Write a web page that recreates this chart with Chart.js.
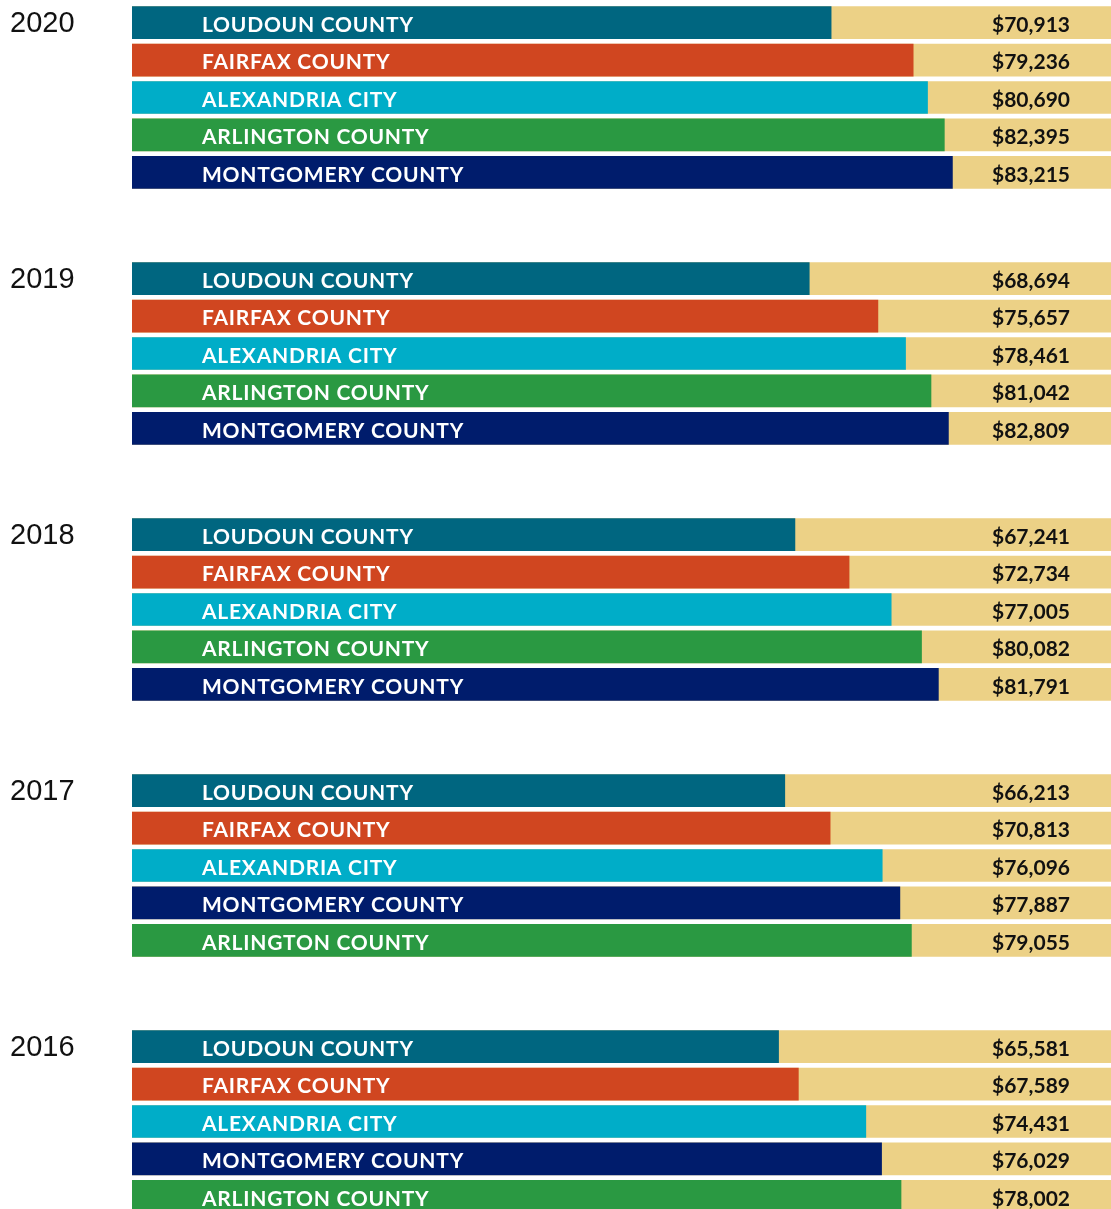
<!DOCTYPE html>
<html>
<head>
<meta charset="utf-8">
<script src="https://cdn.jsdelivr.net/npm/chart.js@4.4.1/dist/chart.umd.min.js"></script>
<style>
  html, body { margin: 0; padding: 0; background: #ffffff; width: 1111px; height: 1209px; overflow: hidden; }
  .group { position: absolute; left: 0; width: 1111px; height: 187px; }
  .year { position: absolute; left: 10px; font-family: "Liberation Sans", Arial, sans-serif; font-size: 29px; line-height: 29px; color: #111; }
</style>
</head>
<body>
<script>
// ---- Data ----
const YEARS = ['2020', '2019', '2018', '2017', '2016'];

const NAMES_2020 = ['LOUDOUN COUNTY', 'FAIRFAX COUNTY', 'ALEXANDRIA CITY', 'ARLINGTON COUNTY', 'MONTGOMERY COUNTY'];
const VALUES_2020 = [70913, 79236, 80690, 82395, 83215];

const NAMES_2019 = ['LOUDOUN COUNTY', 'FAIRFAX COUNTY', 'ALEXANDRIA CITY', 'ARLINGTON COUNTY', 'MONTGOMERY COUNTY'];
const VALUES_2019 = [68694, 75657, 78461, 81042, 82809];

const NAMES_2018 = ['LOUDOUN COUNTY', 'FAIRFAX COUNTY', 'ALEXANDRIA CITY', 'ARLINGTON COUNTY', 'MONTGOMERY COUNTY'];
const VALUES_2018 = [67241, 72734, 77005, 80082, 81791];

const NAMES_2017 = ['LOUDOUN COUNTY', 'FAIRFAX COUNTY', 'ALEXANDRIA CITY', 'MONTGOMERY COUNTY', 'ARLINGTON COUNTY'];
const VALUES_2017 = [66213, 70813, 76096, 77887, 79055];

const NAMES_2016 = ['LOUDOUN COUNTY', 'FAIRFAX COUNTY', 'ALEXANDRIA CITY', 'MONTGOMERY COUNTY', 'ARLINGTON COUNTY'];
const VALUES_2016 = [65581, 67589, 74431, 76029, 78002];

const AXIS_MAX = 99300;

// ---- Styles ----
const COUNTY_COLORS = {
  'LOUDOUN COUNTY': '#006680',
  'FAIRFAX COUNTY': '#D04620',
  'ALEXANDRIA CITY': '#00ADC8',
  'ARLINGTON COUNTY': '#2A9942',
  'MONTGOMERY COUNTY': '#001C6C'
};
const TRACK_COLOR = '#ECD186';

const GROUPS = [
  { year: YEARS[0], names: NAMES_2020, values: VALUES_2020 },
  { year: YEARS[1], names: NAMES_2019, values: VALUES_2019 },
  { year: YEARS[2], names: NAMES_2018, values: VALUES_2018 },
  { year: YEARS[3], names: NAMES_2017, values: VALUES_2017 },
  { year: YEARS[4], names: NAMES_2016, values: VALUES_2016 }
];

const labelPlugin = {
  id: 'barLabels',
  afterDatasetsDraw(chart) {
    const ctx = chart.ctx;
    const meta = chart.getDatasetMeta(0);
    const area = chart.chartArea;
    ctx.save();
    ctx.textBaseline = 'middle';
    meta.data.forEach((bar, i) => {
      const name = chart.data.labels[i];
      const val = chart.data.datasets[0].data[i];
      ctx.font = 'bold 21px Lato, "Open Sans", sans-serif';
      ctx.letterSpacing = '0.75px';
      ctx.fillStyle = '#ffffff';
      ctx.textAlign = 'left';
      ctx.fillText(name, area.left + 70, bar.y + 2.5);
      ctx.fillStyle = '#111111';
      ctx.textAlign = 'right';
      ctx.letterSpacing = '0px';
      ctx.fillText('$' + val.toLocaleString('en-US'), area.right - 41, bar.y + 2.5);
    });
    ctx.restore();
  }
};

GROUPS.forEach((g, k) => {
  const top = 4 + 256 * k;
  const div = document.createElement('div');
  div.className = 'group';
  div.style.top = top + 'px';
  const canvas = document.createElement('canvas');
  canvas.width = 1111;
  canvas.height = 187;
  div.appendChild(canvas);
  document.body.appendChild(div);

  const yr = document.createElement('div');
  yr.className = 'year';
  yr.style.top = (8 + 256 * k) + 'px';
  yr.textContent = g.year;
  document.body.appendChild(yr);

  new Chart(canvas, {
    type: 'bar',
    data: {
      labels: g.names,
      datasets: [
        {
          label: 'Median household income',
          data: g.values,
          backgroundColor: g.names.map(n => COUNTY_COLORS[n]),
          barThickness: 32,
          grouped: false,
          order: 0
        },
        {
          label: 'Track',
          data: g.names.map(() => AXIS_MAX),
          backgroundColor: TRACK_COLOR,
          barThickness: 32,
          grouped: false,
          order: 1
        }
      ]
    },
    options: {
      indexAxis: 'y',
      responsive: false,
      animation: false,
      layout: { padding: { left: 132, right: 0, top: 0, bottom: 0 } },
      plugins: { legend: { display: false }, tooltip: { enabled: false } },
      scales: {
        x: { type: 'linear', min: 0, max: AXIS_MAX, display: false },
        y: { display: false, offset: true }
      }
    },
    plugins: [labelPlugin]
  });
});
</script>
</body>
</html>
